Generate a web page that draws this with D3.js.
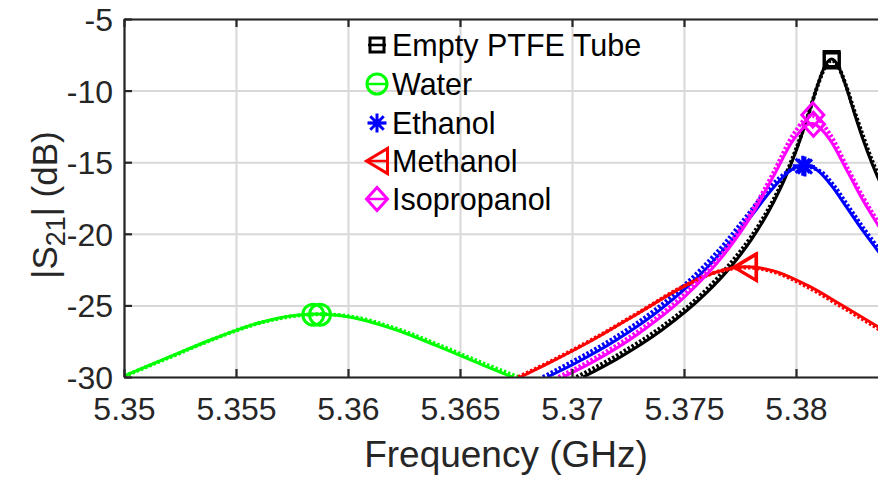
<!DOCTYPE html>
<html><head><meta charset="utf-8">
<script src="https://cdn.jsdelivr.net/npm/d3@7"></script>
<style>body{margin:0;background:#fff}svg{display:block}</style>
</head><body>
<svg id="chart" width="878" height="479"></svg>
<script>
// ---------- data ----------
const xTicks = [5.35, 5.355, 5.36, 5.365, 5.37, 5.375, 5.38];
const xTickLabels = ["5.35", "5.355", "5.36", "5.365", "5.37", "5.375", "5.38"];
const yTicks = [-30, -25, -20, -15, -10, -5];
const yTickLabels = ["-30", "-25", "-20", "-15", "-10", "-5"];
const seriesNames = ["Empty PTFE Tube", "Water", "Ethanol", "Methanol", "Isopropanol"];
const seriesColors = ["#000000", "#00ff00", "#0000ff", "#ff0000", "#ff00ff"];
const seriesMarkers = ["square", "circle", "asterisk", "triangleLeft", "diamond"];

// Empty PTFE tube
const emptyFreq = [5.3705,5.372,5.374,5.376,5.377,5.378,5.379,5.3795,5.380,5.3805,5.381,5.3813,5.38159,5.3819,5.3822,5.3826,5.383,5.3834,5.3838];
const emptyDb   = [-30.0,-28.75,-26.74,-24.13,-22.47,-20.43,-17.8,-16.17,-14.23,-11.95,-9.47,-8.26,-7.8,-8.33,-9.56,-11.55,-13.45,-15.12,-16.59];
const emptyFreq2 = [5.3702,5.372,5.374,5.376,5.377,5.378,5.379,5.3795,5.380,5.3805,5.381,5.3813,5.3816,5.3819,5.3822,5.3826,5.383,5.3834,5.3838];
const emptyDb2   = [-30.0,-28.5,-26.5,-23.9,-22.2,-20.2,-17.6,-16.0,-14.1,-11.9,-9.5,-8.35,-7.9,-8.35,-9.5,-11.4,-13.2,-14.9,-16.3];
const emptyMarkFreq = [5.38159, 5.3816];
const emptyMarkDb = [-7.8, -7.9];

// Water
const waterFreq = [5.35,5.352,5.354,5.356,5.3575,5.3586,5.36,5.362,5.364,5.366,5.3674];
const waterDb   = [-29.93,-28.62,-27.33,-26.23,-25.72,-25.6,-25.79,-26.63,-27.84,-29.15,-30.05];
const waterFreq2 = [5.35,5.352,5.354,5.356,5.3577,5.3588,5.3602,5.3622,5.3642,5.3662,5.3676];
const waterDb2   = [-29.95,-28.65,-27.35,-26.25,-25.72,-25.62,-25.8,-26.65,-27.86,-29.15,-30.0];
const waterMarkFreq = [5.35845, 5.35875];
const waterMarkDb = [-25.65, -25.65];

// Ethanol
const ethanolFreq = [5.3689,5.370,5.372,5.374,5.376,5.377,5.378,5.379,5.3798,5.3804,5.381,5.3816,5.3822,5.383,5.3838];
const ethanolDb   = [-30.0,-29.16,-27.4,-25.22,-22.42,-20.7,-18.76,-16.76,-15.53,-15.2,-15.62,-16.67,-18.01,-19.82,-21.48];
const ethanolFreq2 = [5.3687,5.3698,5.3718,5.3738,5.3758,5.3768,5.3778,5.3788,5.3797,5.3804,5.3811,5.3817,5.3823,5.3831,5.3839];
const ethanolDb2   = [-30.0,-29.1,-27.35,-25.2,-22.4,-20.7,-18.75,-16.8,-15.6,-15.3,-15.65,-16.65,-18.0,-19.8,-21.45];
const ethanolMarkFreq = [5.3803, 5.3804];
const ethanolMarkDb = [-15.25, -15.3];

// Methanol
const methanolFreq = [5.3677,5.369,5.371,5.373,5.375,5.3765,5.3778,5.379,5.3805,5.382,5.3838];
const methanolDb   = [-30.0,-29.0,-27.35,-25.51,-23.67,-22.64,-22.3,-22.59,-23.59,-24.94,-26.63];
const methanolFreq2 = [5.3676,5.369,5.371,5.373,5.375,5.3765,5.3778,5.379,5.3805,5.382,5.3838];
const methanolDb2   = [-30.0,-28.95,-27.3,-25.48,-23.65,-22.65,-22.35,-22.65,-23.7,-25.05,-26.75];
const methanolMarkFreq = [5.37772, 5.37775];
const methanolMarkDb = [-22.32, -22.35];

// Isopropanol
const isoFreq = [5.3696,5.371,5.373,5.375,5.377,5.378,5.379,5.3799,5.3807,5.3815,5.3823,5.383,5.3838];
const isoDb   = [-30.0,-28.89,-26.94,-24.45,-21.02,-18.75,-15.97,-13.4,-12.3,-13.4,-15.66,-17.7,-19.72];
const isoFreq2 = [5.3694,5.371,5.373,5.375,5.377,5.378,5.379,5.3799,5.3807,5.3815,5.3823,5.383,5.3838];
const isoDb2   = [-30.0,-28.7,-26.75,-24.25,-20.8,-18.5,-15.7,-13.0,-11.75,-13.0,-15.4,-17.45,-19.5];
const isoMarkFreq = [5.38075, 5.38078];
const isoMarkDb = [-11.7, -12.35];

const solidFreqs = [emptyFreq, waterFreq, ethanolFreq, methanolFreq, isoFreq];
const solidDbs = [emptyDb, waterDb, ethanolDb, methanolDb, isoDb];
const dotFreqs = [emptyFreq2, waterFreq2, ethanolFreq2, methanolFreq2, isoFreq2];
const dotDbs = [emptyDb2, waterDb2, ethanolDb2, methanolDb2, isoDb2];
const markFreqs = [emptyMarkFreq, waterMarkFreq, ethanolMarkFreq, methanolMarkFreq, isoMarkFreq];
const markDbs = [emptyMarkDb, waterMarkDb, ethanolMarkDb, methanolMarkDb, isoMarkDb];

(function draw() {
const W = 878, H = 479;
const pLeft = 124, pTop = 19, pBottom = 377;
const xMax = 5.385;
const x = d3.scaleLinear().domain([5.35, xMax]).range([pLeft, pLeft + (xMax - 5.35) * 22400]);
const y = d3.scaleLinear().domain([-30, -5]).range([pBottom, pTop]);
const axisColor = "#262626";
const FONT = "'Liberation Sans', Arial, Helvetica, sans-serif";

const svg = d3.select("#chart");
svg.append("rect").attr("width", W).attr("height", H).attr("fill", "#fff");

svg.append("clipPath").attr("id", "plotclip").append("rect")
  .attr("x", pLeft).attr("y", pTop - 1).attr("width", W - pLeft).attr("height", pBottom - pTop + 2);

// grid
const grid = svg.append("g");
grid.append("g").attr("transform", `translate(0,${pBottom})`)
  .call(d3.axisBottom(x).tickValues(xTicks).tickSize(-(pBottom - pTop)).tickFormat(""))
  .call(g => g.select(".domain").remove())
  .call(g => g.selectAll("line").attr("stroke", "#d8d8d8").attr("stroke-width", 2));
grid.append("g").attr("transform", `translate(${pLeft},0)`)
  .call(d3.axisLeft(y).tickValues(yTicks).tickSize(-(W - pLeft)).tickFormat(""))
  .call(g => g.select(".domain").remove())
  .call(g => g.selectAll("line").attr("stroke", "#d8d8d8").attr("stroke-width", 2));

// curves
const plot = svg.append("g").attr("clip-path", "url(#plotclip)");
const line = d3.line().x(d => x(d[0])).y(d => y(d[1])).curve(d3.curveMonotoneX);

function markerPath(type, s) {
  const p = d3.path();
  if (type === "square") { p.rect(-s/2, -s/2, s, s); }
  else if (type === "circle") { p.arc(0, 0, s/2, 0, 2*Math.PI); }
  else if (type === "asterisk") {
    const r = s/2, d = r * Math.SQRT1_2;
    p.moveTo(-r,0); p.lineTo(r,0); p.moveTo(0,-r); p.lineTo(0,r);
    p.moveTo(-d,-d); p.lineTo(d,d); p.moveTo(-d,d); p.lineTo(d,-d);
  }
  else if (type === "triangleLeft") {
    p.moveTo(-s*0.5, 0); p.lineTo(s*0.5, -s*0.6); p.lineTo(s*0.5, s*0.6); p.closePath();
  }
  else if (type === "diamond") {
    p.moveTo(0, -s*0.55); p.lineTo(s*0.5, 0); p.lineTo(0, s*0.55); p.lineTo(-s*0.5, 0); p.closePath();
  }
  return p.toString();
}
const markerSize = {square: 15, circle: 21, asterisk: 20, triangleLeft: 22, diamond: 22};

seriesNames.forEach((name, i) => {
  const dotted = dotFreqs[i].map((f, k) => [f, dotDbs[i][k]]);
  const solid = solidFreqs[i].map((f, k) => [f, solidDbs[i][k]]);
  plot.append("path").datum(dotted).attr("d", line)
    .attr("fill", "none").attr("stroke", seriesColors[i]).attr("stroke-width", 4)
    .attr("stroke-dasharray", "2.5,2");
  plot.append("path").datum(solid).attr("d", line)
    .attr("fill", "none").attr("stroke", seriesColors[i]).attr("stroke-width", 3)
    .attr("stroke-linejoin", "round");
});
seriesNames.forEach((name, i) => {
  markFreqs[i].forEach((f, k) => {
    svg.append("path").attr("d", markerPath(seriesMarkers[i], markerSize[seriesMarkers[i]]))
      .attr("transform", `translate(${x(f)},${y(markDbs[i][k])})`)
      .attr("fill", "none").attr("stroke", seriesColors[i]).attr("stroke-width", 3);
  });
});

// axes
const ax = svg.append("g").attr("font-family", FONT);
const xb = ax.append("g").attr("transform", `translate(0,${pBottom})`)
  .call(d3.axisBottom(x).tickValues(xTicks).tickFormat((d, i) => xTickLabels[i]).tickSizeInner(-8).tickSizeOuter(0).tickPadding(20));
const xt = ax.append("g").attr("transform", `translate(0,${pTop})`)
  .call(d3.axisTop(x).tickValues(xTicks).tickFormat("").tickSizeInner(-8).tickSizeOuter(0));
const yl = ax.append("g").attr("transform", `translate(${pLeft},0)`)
  .call(d3.axisLeft(y).tickValues(yTicks).tickFormat((d, i) => yTickLabels[i]).tickSizeInner(-8).tickSizeOuter(0).tickPadding(11));
[xb, xt, yl].forEach(g => {
  g.select(".domain").attr("stroke", axisColor).attr("stroke-width", 2.2);
  g.selectAll(".tick line").attr("stroke", axisColor).attr("stroke-width", 2.2);
  g.selectAll("text").attr("fill", "#262626").attr("font-size", 32).attr("font-family", FONT);
});
xb.selectAll("text").attr("dy", "0.71em");
yl.selectAll("text").attr("dy", "0.36em");

// axis labels
ax.append("text").attr("x", 506).attr("y", 467).attr("text-anchor", "middle")
  .attr("font-size", 37).attr("fill", "#262626").text("Frequency (GHz)");
const yLab = ax.append("text").attr("transform", "translate(57,205) rotate(-90)")
  .attr("text-anchor", "middle").attr("font-size", 35).attr("fill", "#262626");
yLab.append("tspan").text("|S");
yLab.append("tspan").attr("font-size", 27).attr("dy", 8).text("21");
yLab.append("tspan").attr("dy", -8).text("| (dB)");

// legend
const leg = svg.append("g").attr("font-family", FONT);
const legY = [45, 84, 123, 161, 199];
seriesNames.forEach((name, i) => {
  const g = leg.append("g").attr("transform", `translate(377,${legY[i]})`);
  g.append("line").attr("x1", -9).attr("x2", 9).attr("stroke", seriesColors[i]).attr("stroke-width", 2.5);
  g.append("path").attr("d", markerPath(seriesMarkers[i], markerSize[seriesMarkers[i]] - 1))
    .attr("fill", "none").attr("stroke", seriesColors[i]).attr("stroke-width", 3);
  g.append("text").attr("x", 15).attr("y", 11).attr("font-size", 30.5).attr("fill", "#000").text(name);
});
})();
</script>
</body></html>
